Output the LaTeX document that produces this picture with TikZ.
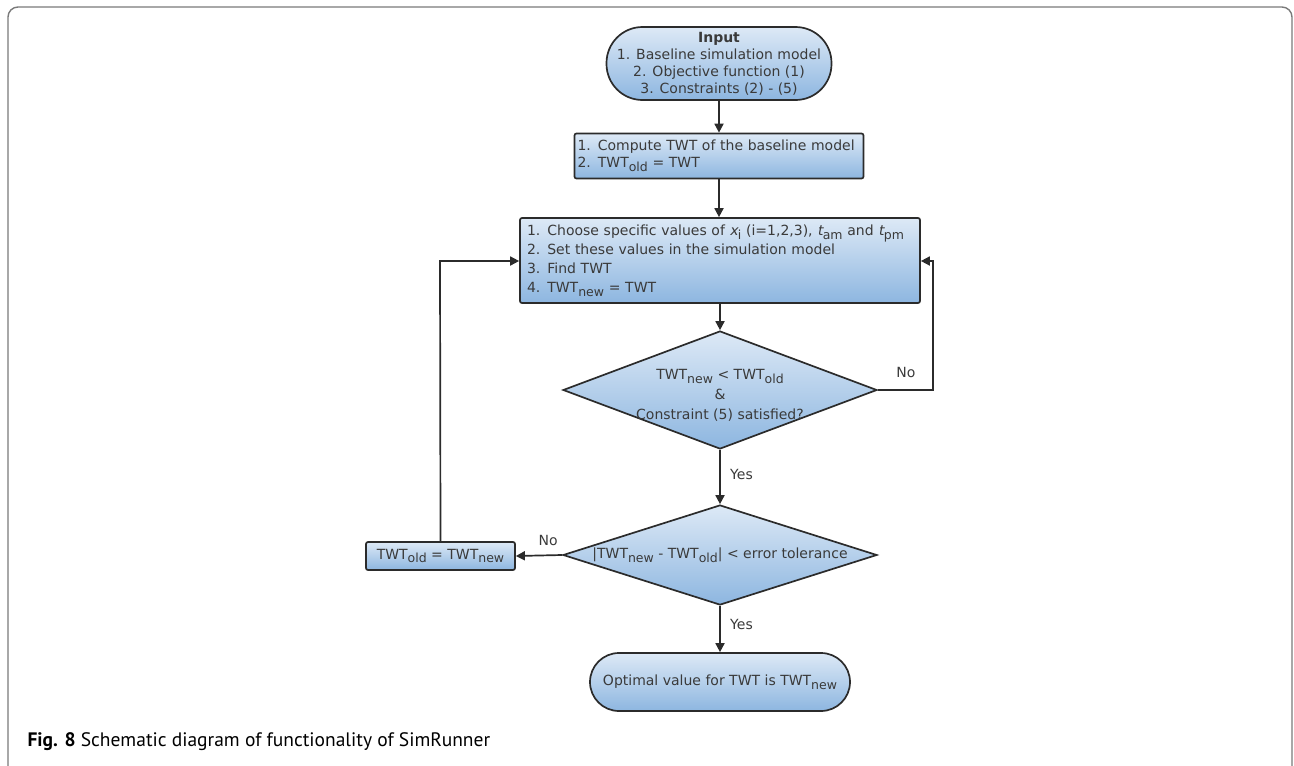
\documentclass[tikz,border=0pt]{standalone}
\usepackage{fontspec}
\setmainfont{DejaVu Sans}
\newfontfamily\capfont{PT Sans}
\usetikzlibrary{arrows.meta,shapes.geometric}
\definecolor{boxtop}{HTML}{DDE9F6}
\definecolor{boxbot}{HTML}{8DB6E0}
\definecolor{edgec}{HTML}{2B2B2B}
\definecolor{txt}{HTML}{3A3A3A}
\definecolor{framec}{HTML}{7A7A7A}
\newcommand{\sbs}[1]{\raisebox{-0.5ex}{\fontsize{12.5}{12.5}\selectfont #1}}
\newcommand{\itv}[1]{{\fontspec{DejaVu Sans}[FakeSlant=0.2]#1}}
\begin{document}
\begin{tikzpicture}[x=1pt,y=-1pt,
  every node/.style={font=\fontsize{14}{18}\selectfont, text=txt},
  blk/.style={draw=edgec, line width=1.7pt, top color=boxtop, bottom color=boxbot, inner sep=0pt},
  sqbox/.style={blk, rounded corners=2pt, align=left, inner xsep=7pt},
  stad/.style={blk, align=center},
  dia/.style={blk, shape=diamond},
  conn/.style={draw=edgec, line width=1.7pt, -{Triangle[length=9pt,width=9pt]}},
  lbl/.style={font=\fontsize{14}{16}\selectfont}
]
\useasboundingbox (0,0) rectangle (1294,766);
\draw[framec, line width=1.4pt, rounded corners=10pt] (8,770) -- (8,7) -- (1292,7) -- (1292,770);

\node[stad, rounded corners=36pt, minimum width=225pt, minimum height=73pt, font=\fontsize{14}{17}\selectfont] (in) at (719,63.5)
  {\textbf{Input}\\1. Baseline simulation model\\2. Objective function (1)\\3. Constraints (2) - (5)};
\node[sqbox, text width=283pt, inner xsep=3pt, minimum height=45pt, font=\fontsize{14}{17}\selectfont] (b2) at (719,156)
  {1. Compute TWT of the baseline model\\2. TWT\sbs{old} = TWT};
\node[sqbox, text width=386pt, minimum height=85pt, font=\fontsize{14}{19}\selectfont] (b3) at (720,260.5)
  {1. Choose specific values of \itv{x}\sbs{i} (i=1,2,3), \itv{t}\sbs{am} and \itv{t}\sbs{pm}\\
   2. Set these values in the simulation model\\3. Find TWT\\4. TWT\sbs{new} = TWT};
\node[dia, minimum width=314pt, minimum height=118pt] (d1) at (720,390) {};
\node[align=center, font=\fontsize{14}{20}\selectfont] (d1t) at (720,395)
  {TWT\sbs{new} < TWT\sbs{old}\\\&\\Constraint (5) satisfied?};
\node[dia, minimum width=314pt, minimum height=100pt] (d2) at (720,555) {};
\node (d2t) at (720,555) {|TWT\sbs{new} - TWT\sbs{old}| < error tolerance};
\node[sqbox, rounded corners=2pt, minimum width=149pt, minimum height=28pt, inner xsep=0pt, align=center] (b4) at (440.5,556)
  {TWT\sbs{old} = TWT\sbs{new}};
\node[stad, rounded corners=29pt, minimum width=260pt, minimum height=58pt] (fin) at (720,682)
  {Optimal value for TWT is TWT\sbs{new}};

\coordinate (rt) at (933,390);
\coordinate (rb) at (933,261);
\coordinate (lt) at (440,261);

\draw[conn] (in.south) -- (b2.north);
\draw[conn] (b2.south) -- (b2.south |- b3.north);
\draw[conn] (b3.south) -- (d1.north);
\draw[conn] (d1.south) -- node[lbl, right=6pt, pos=0.45] (y1) {Yes} (d2.north);
\draw[conn] (d2.south) -- node[lbl, right=6pt, pos=0.4] (y2) {Yes} (fin.north);
\draw[conn] (d2.west) -- node[lbl, above=5pt, pos=0.3] (n2) {No} (b4.east);
\draw[conn] (b4.north) -- (lt) -- (b3.west |- lt);
\draw[conn] (d1.east) -- (rt) -- (rb) -- (b3.east |- rb);
\node[lbl] (n1) at (906,372) {No};

\node[anchor=west, text=black, font=\capfont\fontsize{19.5}{22}\selectfont] (cap) at (24,742)
  {\textbf{Fig. 8} Schematic diagram of functionality of SimRunner};
\end{tikzpicture}
\end{document}
